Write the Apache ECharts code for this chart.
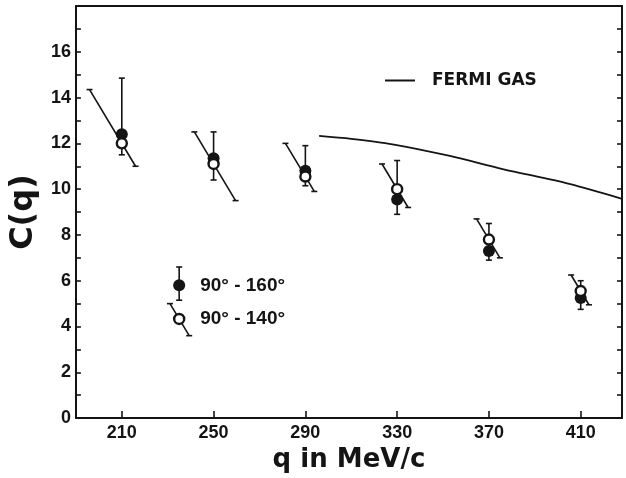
<!DOCTYPE html>
<html><head><meta charset="utf-8">
<script src="https://cdn.jsdelivr.net/npm/echarts@6/dist/echarts.min.js"></script>
<style>html,body{margin:0;padding:0;background:#fff}#c{width:626px;height:478px}</style>
</head><body><div id="c"></div>
<script>
// ---- data ----
const q = [210, 250, 290, 330, 370, 410];
const c160 = [12.4, 11.35, 10.8, 9.55, 7.3, 5.25];
const c160Lo = [11.5, 10.4, 10.15, 8.9, 6.9, 4.75];
const c160Hi = [14.85, 12.5, 11.9, 11.25, 8.5, 6.0];
const c140 = [12.0, 11.1, 10.55, 10.0, 7.8, 5.55];
const c140Lo = [11.0, 9.5, 9.9, 9.2, 7.0, 4.95];
const c140Hi = [14.35, 12.5, 12.0, 11.1, 8.7, 6.25];
const fermiQ = [296, 310, 328, 353, 376, 405, 428];
const fermiC = [12.33, 12.2, 11.96, 11.45, 10.88, 10.23, 9.58];
const xTicks = [210, 250, 290, 330, 370, 410];
const yLabels = [0, 2, 4, 6, 8, 10, 12, 14, 16];
const seriesNames = ['90° - 160°', '90° - 140°'];
const fermiName = 'FERMI GAS';
// in-plot legend samples (data units)
const keyQ = [235, 235];
const keyC = [5.8, 4.33];
const keyLo = [5.15, 3.6];
const keyHi = [6.6, 5.0];

// ---- style ----
const INK = '#141414';
const LW = 1.6;
const CAP = 3;
const SLANT = 0.6;

function capLine(x, y) {
  return {type: 'line', shape: {x1: x - CAP, y1: y, x2: x + CAP, y2: y}, style: {stroke: INK, lineWidth: LW}};
}
function filledItem(p, pl, ph) {
  return [
    {type: 'line', shape: {x1: pl[0], y1: pl[1], x2: ph[0], y2: ph[1]}, style: {stroke: INK, lineWidth: LW}},
    capLine(ph[0], ph[1]), capLine(pl[0], pl[1]),
    {type: 'circle', shape: {cx: p[0], cy: p[1], r: 6}, style: {fill: INK}}
  ];
}
function openItem(p, pl, ph) {
  const tx = p[0] - SLANT * (p[1] - ph[1]);
  const bx = p[0] + SLANT * (pl[1] - p[1]);
  return [
    {type: 'line', shape: {x1: tx, y1: ph[1], x2: bx, y2: pl[1]}, style: {stroke: INK, lineWidth: LW}},
    capLine(tx, ph[1]), capLine(bx, pl[1]),
    {type: 'circle', shape: {cx: p[0], cy: p[1], r: 5}, style: {fill: '#fff', stroke: INK, lineWidth: 2.4}}
  ];
}
function coords(api) {
  const x = api.value(0);
  return [api.coord([x, api.value(1)]), api.coord([x, api.value(2)]), api.coord([x, api.value(3)])];
}
const renderFilled = (params, api) => { const c = coords(api); return {type: 'group', children: filledItem(c[0], c[1], c[2])}; };
const renderOpen = (params, api) => { const c = coords(api); return {type: 'group', children: openItem(c[0], c[1], c[2])}; };
const renderKey = (params, api) => {
  const c = coords(api);
  const kids = params.dataIndex === 0 ? filledItem(c[0], c[1], c[2]) : openItem(c[0], c[1], c[2]);
  kids.push({type: 'text', x: c[0][0] + 21, y: c[0][1], style: {
    text: seriesNames[params.dataIndex], fill: INK, font: 'bold 19px "Liberation Sans", Arial, sans-serif',
    verticalAlign: 'middle', align: 'left'}});
  return {type: 'group', children: kids};
};

const zip = (...arrs) => arrs[0].map((_, i) => arrs.map(a => a[i]));

const axisLineStyle = {color: INK, width: 2};
const option = {
  backgroundColor: '#fff',
  animation: false,
  grid: {left: 72, right: 4, top: 6, bottom: 57},
  legend: {
    data: [{name: fermiName, icon: 'rect'}],
    left: 380, top: 67, itemWidth: 30, itemHeight: 2, selectedMode: false,
    textStyle: {color: INK, fontSize: 17, fontWeight: 'bold', fontFamily: 'DejaVu Sans', padding: [0, 0, 0, 12]}
  },
  xAxis: [{
    type: 'value', min: 190, max: 428, position: 'bottom',
    axisLine: {show: true, onZero: false, lineStyle: axisLineStyle},
    axisTick: {show: true, inside: true, length: 7, customValues: xTicks, lineStyle: {color: INK, width: LW}},
    axisLabel: {customValues: xTicks, color: INK, fontSize: 18, fontWeight: 'bold', fontFamily: 'Liberation Sans', margin: 6},
    splitLine: {show: false},
    name: 'q in MeV/c', nameLocation: 'middle', nameGap: 19,
    nameTextStyle: {color: INK, fontSize: 26, fontWeight: 'bold', fontFamily: 'DejaVu Sans'}
  }, {
    type: 'value', min: 190, max: 428, position: 'top',
    axisLine: {show: true, onZero: false, lineStyle: axisLineStyle},
    axisTick: {show: false}, axisLabel: {show: false}, splitLine: {show: false}
  }],
  yAxis: [{
    type: 'value', min: 0, max: 18, interval: 1, position: 'left',
    axisLine: {show: true, onZero: false, lineStyle: axisLineStyle},
    axisTick: {show: true, inside: true, length: 5, lineStyle: {color: INK, width: LW}},
    axisLabel: {customValues: yLabels, color: INK, fontSize: 18, fontWeight: 'bold', fontFamily: 'Liberation Sans', margin: 5},
    splitLine: {show: false},
    name: 'C(q)', nameLocation: 'middle', nameGap: 24, nameRotate: 90,
    nameTextStyle: {color: INK, fontSize: 32, fontWeight: 'bold', fontFamily: 'DejaVu Sans'}
  }, {
    type: 'value', min: 0, max: 18, interval: 1, position: 'right',
    axisLine: {show: true, onZero: false, lineStyle: axisLineStyle},
    axisTick: {show: true, inside: true, length: 5, lineStyle: {color: INK, width: LW}},
    axisLabel: {show: false}, splitLine: {show: false}
  }],
  series: [
    {name: fermiName, type: 'line', smooth: 0.3, showSymbol: false, symbol: 'none',
     data: zip(fermiQ, fermiC), lineStyle: {color: INK, width: 1.8}, itemStyle: {color: INK}},
    {name: seriesNames[0], type: 'custom', renderItem: renderFilled, data: zip(q, c160, c160Lo, c160Hi), z: 3},
    {name: seriesNames[1], type: 'custom', renderItem: renderOpen, data: zip(q, c140, c140Lo, c140Hi), z: 4},
    {name: 'key', type: 'custom', renderItem: renderKey, data: zip(keyQ, keyC, keyLo, keyHi), z: 4}
  ]
};
echarts.init(document.getElementById('c'), null, {renderer: 'canvas'}).setOption(option);
</script>
</body></html>
